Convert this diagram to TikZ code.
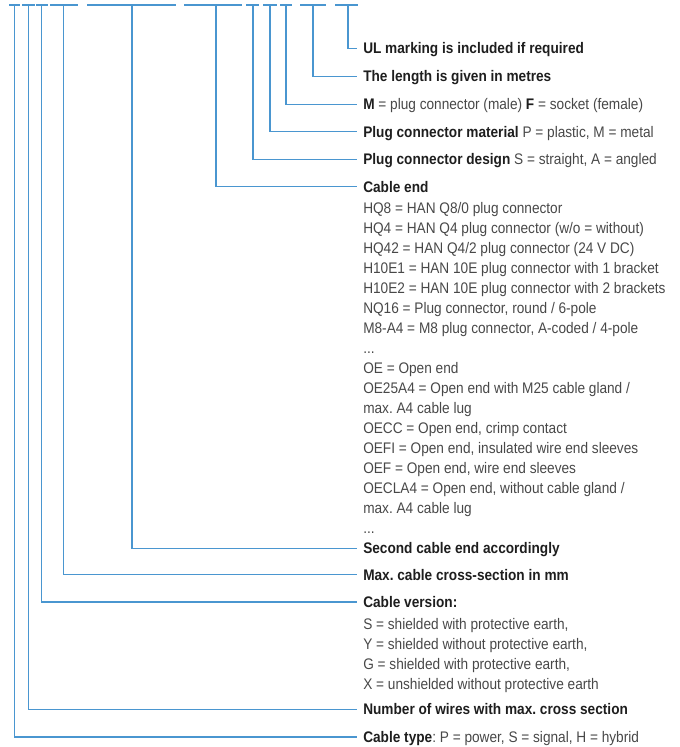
\documentclass[tikz,border=0pt]{standalone}
\usepackage{fontspec}
\setmainfont{Liberation Sans}[FakeStretch=0.89]
\usetikzlibrary{positioning}
\frenchspacing

\definecolor{keyblue}{RGB}{74,150,208}
\definecolor{titlegray}{RGB}{30,30,30}
\definecolor{bodygray}{RGB}{72,72,72}
\newcommand{\normaltxt}[1]{{\mdseries\color{bodygray}#1}}
\newcommand{\firstline}{\rule{0pt}{10pt}}

\begin{document}
\begin{tikzpicture}[
    x=0.75pt, y=-0.75pt,
    font=\fontsize{11.5}{15}\selectfont,
    bar/.style={draw=keyblue, line width=1pt},
    lead/.style={draw=keyblue, line width=1pt},
    title/.style={anchor=west, inner sep=0pt, text height=8.2pt, text depth=0pt, text=titlegray, font=\fontsize{11.5}{15}\selectfont\bfseries},
    body/.style={anchor=north west, inner sep=0pt, align=left, text=bodygray, font=\fontsize{11.5}{15}\selectfont},
]
\useasboundingbox (0,0) rectangle (680,747);

% ============ Code positions (top bars) ============
\draw[bar] (9,5) -- (20,5);
\draw[bar] (22,5) -- (35,5);
\draw[bar] (36,5) -- (48,5);
\draw[bar] (50,5) -- (78,5);
\draw[bar] (87,5) -- (176,5);
\draw[bar] (184,5) -- (242,5);
\draw[bar] (246,5) -- (259,5);
\draw[bar] (263,5) -- (277,5);
\draw[bar] (280,5) -- (292,5);
\draw[bar] (300,5) -- (326,5);
\draw[bar] (335,5) -- (358,5);

\coordinate (t-ctype) at (14.7,5);
\coordinate (t-wires) at (28.3,5);
\coordinate (t-version) at (41.3,5);
\coordinate (t-xsec) at (63.3,5);
\coordinate (t-cend2) at (132,5);
\coordinate (t-cend) at (216,5);
\coordinate (t-design) at (253,5);
\coordinate (t-material) at (270,5);
\coordinate (t-gender) at (286,5);
\coordinate (t-length) at (313,5);
\coordinate (t-ul) at (348,5);

% ============ Labels ============
\node[title] (ul) at (363,48.3) {UL marking is included if required};
\node[title] (length) at (363,76.3) {The length is given in metres};
\node[title] (gender) at (363,104.3) {M \normaltxt{= plug connector (male)} F \normaltxt{= socket (female)}};
\node[title] (material) at (363,131.8) {Plug connector material \normaltxt{P = plastic, M = metal}};
\node[title] (design) at (363,159.3) {Plug connector design \normaltxt{S = straight, A = angled}};
\node[title] (cend) at (363,186.6) {Cable end};
\node[body] (cendlist) at ([yshift=-5.75pt]cend.south west) {%
    \firstline HQ8 = HAN Q8/0 plug connector\\
    HQ4 = HAN Q4 plug connector (w/o = without)\\
    HQ42 = HAN Q4/2 plug connector (24 V DC)\\
    H10E1 = HAN 10E plug connector with 1 bracket\\
    H10E2 = HAN 10E plug connector with 2 brackets\\
    NQ16 = Plug connector, round / 6-pole\\
    M8-A4 = M8 plug connector, A-coded / 4-pole\\
    ...\\
    OE = Open end\\
    OE25A4 = Open end with M25 cable gland /\\
    max. A4 cable lug\\
    OECC = Open end, crimp contact\\
    OEFI = Open end, insulated wire end sleeves\\
    OEF = Open end, wire end sleeves\\
    OECLA4 = Open end, without cable gland /\\
    max. A4 cable lug\\
    ...};
\node[title] (cend2) at (363,548.3) {Second cable end accordingly};
\node[title] (xsec) at (363,574.8) {Max. cable cross-section in mm};
\node[title] (version) at (363,602) {Cable version:};
\node[body] (versionlist) at ([yshift=-5.75pt]version.south west) {%
    \firstline S = shielded with protective earth,\\
    Y = shielded without protective earth,\\
    G = shielded with protective earth,\\
    X = unshielded without protective earth};
\node[title] (wires) at (363,709.5) {Number of wires with max. cross section};
\node[title] (ctype) at (363,737) {Cable type\normaltxt{: P = power, S = signal, H = hybrid}};

% ============ Leader lines ============
\draw[lead] (t-ul) |- ([xshift=-4.5pt]ul.west);
\draw[lead] (t-length) |- ([xshift=-4.5pt]length.west);
\draw[lead] (t-gender) |- ([xshift=-4.5pt]gender.west);
\draw[lead] (t-material) |- ([xshift=-4.5pt]material.west);
\draw[lead] (t-design) |- ([xshift=-4.5pt]design.west);
\draw[lead] (t-cend) |- ([xshift=-4.5pt]cend.west);
\draw[lead] (t-cend2) |- ([xshift=-4.5pt]cend2.west);
\draw[lead] (t-xsec) |- ([xshift=-4.5pt]xsec.west);
\draw[lead] (t-version) |- ([xshift=-4.5pt]version.west);
\draw[lead] (t-wires) |- ([xshift=-4.5pt]wires.west);
\draw[lead] (t-ctype) |- ([xshift=-4.5pt]ctype.west);

\end{tikzpicture}
\end{document}
